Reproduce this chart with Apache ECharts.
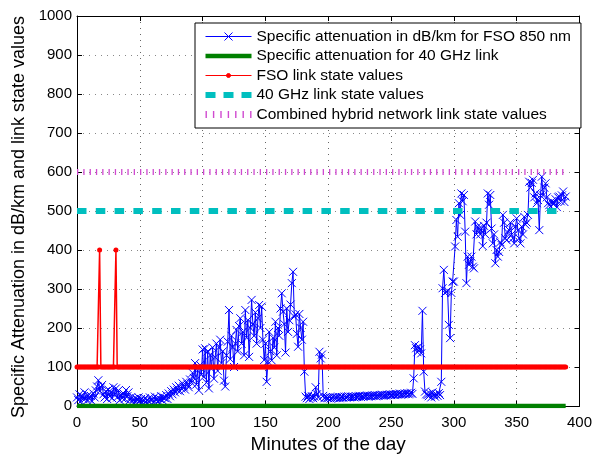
<!DOCTYPE html>
<html>
<head>
<meta charset="utf-8">
<script src="https://cdn.jsdelivr.net/npm/echarts@6/dist/echarts.min.js"></script>
<style>
  html, body { margin: 0; padding: 0; background: #fff; }
  #chart { width: 595px; height: 460px; }
</style>
</head>
<body>
<div id="chart"></div>
<script>
// Specific attenuation of the FSO 850 nm link, one sample per minute (dB/km)
const fsoAttenuation = [
  22, 15, 30, 12, 25, 18, 35, 20, 14, 28,
  18, 26, 12, 32, 22, 40, 50, 66, 38, 48,
  54, 30, 22, 38, 18, 42, 25, 35, 20, 48,
  30, 45, 22, 40, 15, 28, 20, 32, 18, 41,
  25, 35, 15, 22, 12, 18, 10, 20, 14, 22,
  12, 18, 8, 15, 20, 10, 16, 12, 22, 14,
  18, 10, 24, 15, 20, 12, 18, 25, 15, 22,
  20, 28, 18, 32, 25, 38, 30, 42, 35, 48,
  40, 52, 38, 45, 58, 50, 42, 62, 55, 48,
  68, 60, 85, 72, 110, 55, 92, 40, 105, 80,
  145, 75, 148, 60, 140, 45, 130, 95, 150, 70,
  125, 160, 90, 150, 170, 110, 140, 65, 50, 130,
  165, 246, 120, 180, 150, 100, 160, 195, 140, 205,
  225, 160, 190, 130, 246, 175, 220, 126, 200, 272,
  210, 180, 240, 160, 225, 259, 200, 255, 170, 118,
  160, 62, 114, 190, 140, 117, 175, 150, 216, 130,
  200, 180, 250, 289, 242, 210, 137, 250, 190, 220,
  260, 315, 344, 229, 235, 185, 152, 236, 200, 170,
  216, 88, 24, 20, 26, 18, 22, 25, 20, 24,
  48, 30, 22, 139, 122, 132, 26, 20, 23, 21,
  20, 22, 19, 21, 23, 20, 22, 21, 24, 20,
  22, 23, 21, 24, 22, 23, 25, 22, 24, 23,
  24, 22, 25, 23, 24, 26, 23, 25, 24, 26,
  25, 27, 24, 26, 25, 27, 26, 28, 25, 27,
  26, 28, 27, 29, 26, 28, 27, 29, 28, 30,
  28, 29, 30, 28, 31, 29, 30, 32, 29, 31,
  30, 32, 31, 33, 30, 32, 34, 31, 71, 156,
  148, 138, 152, 145, 135, 244, 88, 37, 30, 28,
  25, 32, 22, 35, 28, 24, 30, 26, 33, 28,
  62, 302, 349, 290, 293, 295, 208, 174, 290, 319,
  319, 409, 477, 434, 520, 490, 545, 525, 541, 447,
  315, 383, 362, 370, 383, 357, 353, 473, 440, 460,
  455, 440, 456, 410, 462, 440, 470, 545, 516, 541,
  455, 417, 440, 366, 400, 383, 395, 420, 413, 490,
  470, 430, 425, 445, 451, 470, 440, 430, 417, 460,
  481, 450, 430, 417, 460, 440, 485, 465, 470, 490,
  575, 560, 572, 580, 535, 545, 520, 528, 451, 540,
  588, 540, 560, 571, 535, 520, 515, 511, 525, 518,
  520, 530, 510, 535, 537, 525, 540, 550, 523, 537
];

// Link state levels (constant over the observation window)
const rfAttenuationLevel = 0;      // specific attenuation for the 40 GHz link
const fsoStateLevel = 100;         // FSO link state baseline
const fsoStateSpikeLevel = 400;    // FSO link state during outages
const fsoStateSpikeMinutes = [18, 31];
const rfStateLevel = 500;          // 40 GHz link state
const hybridStateLevel = 600;      // combined hybrid network link state

const seriesNames = [
  'Specific attenuation in dB/km for FSO 850 nm',
  'Specific attenuation for 40 GHz link',
  'FSO link state values',
  '40 GHz link state values',
  'Combined hybrid network link state values'
];

const xTicks = { min: 0, max: 400, interval: 50 };
const yTicks = { min: 0, max: 1000, interval: 100 };

const minutes = fsoAttenuation.map((_, i) => i);
const blueData = minutes.map(m => [m, fsoAttenuation[m]]);
const greenData = minutes.map(m => [m, rfAttenuationLevel]);
const redData = minutes.map(m => [m, fsoStateSpikeMinutes.includes(m) ? fsoStateSpikeLevel : fsoStateLevel]);
const cyanData = minutes.map(m => [m, rfStateLevel]);
const magentaData = minutes.map(m => [m, hybridStateLevel]);

const FONT = 'Liberation Sans, Arial, Helvetica, sans-serif';
const BLUE = '#0000ff', GREEN = '#008000', RED = '#ff0000', CYAN = '#00bfbf', MAGENTA = '#d04ad0';
const crossSymbol = 'path://M0,0L10,10M10,0L0,10';

// Legend sample glyphs (line samples in the style of each series)
const legendIcons = {
  blue: 'path://M0,7L46,7M19,3L27,11M27,3L19,11',
  green: 'path://M0,0L46,0L46,4.5L0,4.5Z',
  red: 'path://M0,2L46,2M21,2A2,2 0 1,1 25,2A2,2 0 1,1 21,2',
  cyan: 'path://M0,0h10v6h-10zM18,0h10v6h-10zM36,0h10v6h-10z',
  magenta: 'path://M0,0h1.4v7h-1.4zM7.4,0h1.4v7h-1.4zM14.8,0h1.4v7h-1.4zM22.2,0h1.4v7h-1.4zM29.6,0h1.4v7h-1.4zM37,0h1.4v7h-1.4zM44.6,0h1.4v7h-1.4z'
};

const chart = echarts.init(document.getElementById('chart'), null, { renderer: 'canvas' });

const gridLine = (color) => ({ show: true, lineStyle: { color: color, type: [1, 5], width: 1 } });

chart.setOption({
  animation: false,
  backgroundColor: '#fff',
  textStyle: { fontFamily: FONT },
  grid: { left: 77, top: 16, right: 12, bottom: 54, containLabel: false },
  legend: {
    orient: 'vertical',
    left: 195,
    top: 23,
    backgroundColor: '#fff',
    borderColor: '#000',
    borderWidth: 1,
    padding: [5.5, 10, 5.5, 10],
    itemWidth: 46,
    itemHeight: 14,
    itemGap: 3.5,
    textStyle: { fontFamily: FONT, fontSize: 15.5, lineHeight: 15, color: '#000' },
    data: [
      { name: seriesNames[0], icon: legendIcons.blue, itemStyle: { color: 'transparent', borderColor: BLUE, borderWidth: 1, opacity: 1 } },
      { name: seriesNames[1], icon: legendIcons.green, itemStyle: { color: GREEN, borderColor: GREEN, borderWidth: 0, opacity: 1 } },
      { name: seriesNames[2], icon: legendIcons.red, itemStyle: { color: RED, borderColor: RED, borderWidth: 1, opacity: 1 } },
      { name: seriesNames[3], icon: legendIcons.cyan, itemStyle: { color: CYAN, borderColor: CYAN, borderWidth: 0, opacity: 1 } },
      { name: seriesNames[4], icon: legendIcons.magenta, itemStyle: { color: MAGENTA, borderColor: MAGENTA, borderWidth: 0, opacity: 1 } }
    ]
  },
  xAxis: [
    {
      type: 'value', min: xTicks.min, max: xTicks.max, interval: xTicks.interval,
      name: 'Minutes of the day', nameLocation: 'middle', nameGap: 25,
      nameTextStyle: { fontFamily: FONT, fontSize: 19, color: '#000' },
      axisLine: { show: true, lineStyle: { color: '#000', width: 1 } },
      axisTick: { show: true, inside: true, length: 5, lineStyle: { color: '#000' } },
      axisLabel: { fontFamily: FONT, fontSize: 15, color: '#000', margin: 9 },
      splitLine: gridLine('#666')
    },
    {
      type: 'value', position: 'top', min: xTicks.min, max: xTicks.max, interval: xTicks.interval,
      axisLine: { show: true, onZero: false, lineStyle: { color: '#000', width: 1 } },
      axisTick: { show: true, inside: true, length: 5, lineStyle: { color: '#000' } },
      axisLabel: { show: false },
      splitLine: { show: false }
    }
  ],
  yAxis: [
    {
      type: 'value', min: yTicks.min, max: yTicks.max, interval: yTicks.interval,
      name: 'Specific Attenuation in dB/km and link state values',
      nameLocation: 'middle', nameGap: 42,
      nameTextStyle: { fontFamily: FONT, fontSize: 18, color: '#000', padding: [0, 12, 0, 0] },
      axisLine: { show: true, lineStyle: { color: '#000', width: 1 } },
      axisTick: { show: true, inside: true, length: 5, lineStyle: { color: '#000' } },
      axisLabel: { fontFamily: FONT, fontSize: 15, color: '#000', margin: 5, formatter: v => String(v) },
      splitLine: gridLine('#888')
    },
    {
      type: 'value', position: 'right', min: yTicks.min, max: yTicks.max, interval: yTicks.interval,
      axisLine: { show: true, onZero: false, lineStyle: { color: '#000', width: 1 } },
      axisTick: { show: true, inside: true, length: 5, lineStyle: { color: '#000' } },
      axisLabel: { show: false },
      splitLine: { show: false }
    }
  ],
  series: [
    {
      name: seriesNames[0], type: 'line', data: blueData,
      symbol: crossSymbol, symbolSize: 8, showAllSymbol: true,
      lineStyle: { color: BLUE, width: 1 },
      itemStyle: { color: BLUE, borderColor: BLUE, borderWidth: 1 },
      z: 2
    },
    {
      name: seriesNames[1], type: 'line', data: greenData,
      symbol: 'none', showSymbol: false,
      lineStyle: { color: GREEN, width: 4.5 },
      itemStyle: { color: GREEN },
      z: 3
    },
    {
      name: seriesNames[2], type: 'line', data: redData,
      symbol: 'circle', symbolSize: 5, showAllSymbol: true,
      lineStyle: { color: RED, width: 1.5 },
      itemStyle: { color: RED },
      z: 4
    },
    {
      name: seriesNames[3], type: 'line', data: cyanData,
      symbol: 'none', showSymbol: false,
      lineStyle: { color: CYAN, width: 6, type: [9.5, 9.3], cap: 'butt' },
      itemStyle: { color: CYAN },
      z: 5
    },
    {
      name: seriesNames[4], type: 'line', data: magentaData,
      symbol: 'none', showSymbol: false,
      lineStyle: { color: MAGENTA, width: 6, type: [1.3, 5], cap: 'butt' },
      itemStyle: { color: MAGENTA },
      z: 6
    }
  ]
});
</script>
</body>
</html>
